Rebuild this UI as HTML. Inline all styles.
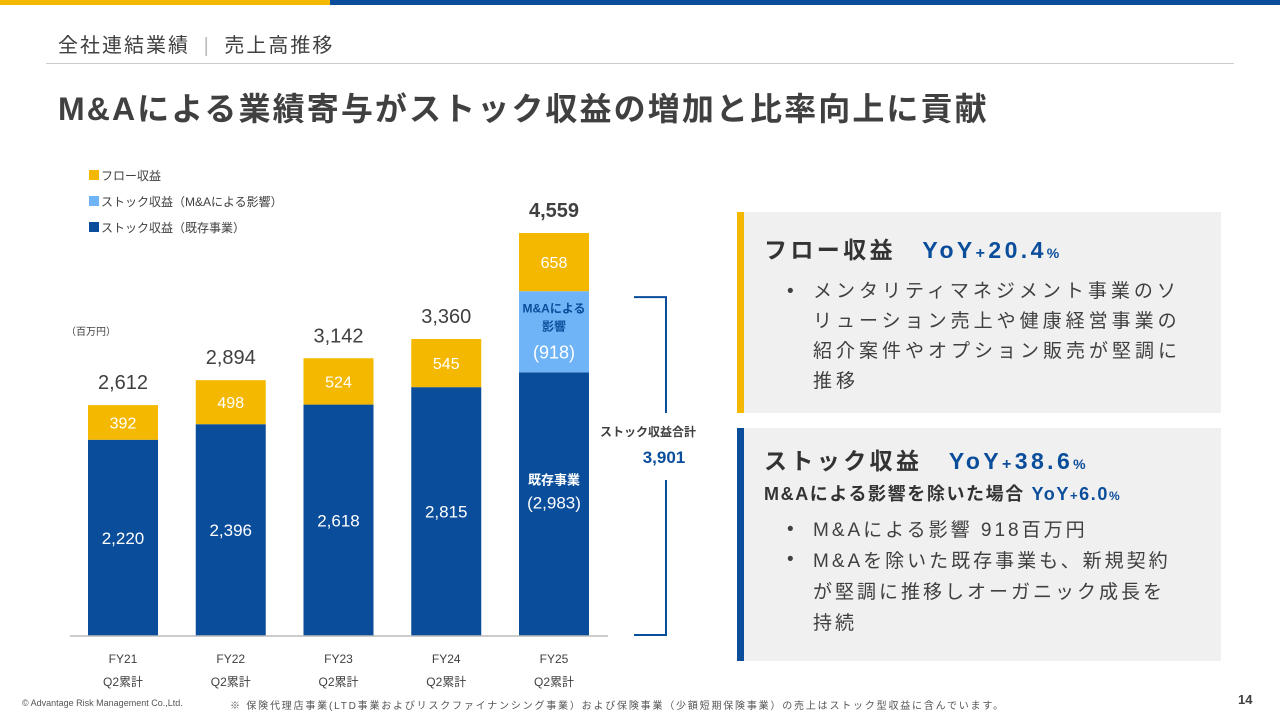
<!DOCTYPE html>
<html><head><meta charset="utf-8"><style>
body{margin:0;width:1280px;height:720px;background:#fff;position:relative;overflow:hidden;font-family:"Liberation Sans","Noto Sans CJK JP",sans-serif;color:#404040}
.abs{position:absolute}
.bl{position:absolute;font-size:19px;line-height:30px;letter-spacing:4px;color:#404040;white-space:nowrap}
</style></head><body>
<div class="abs" style="left:0;top:0;width:330px;height:5px;background:#f5b800"></div>
<div class="abs" style="left:330px;top:0;width:950px;height:5px;background:#0a4d9b"></div>
<div class="abs" style="left:58px;top:29px;font-size:20px;letter-spacing:2px;color:#404040">全社連結業績 <span style="color:#bbb;margin:0 6px">|</span> 売上高推移</div>
<div class="abs" style="left:46px;top:63px;width:1188px;height:1px;background:#ccc"></div>
<div class="abs" style="left:58px;top:84px;font-size:32px;font-weight:bold;letter-spacing:2.1px;color:#404040">M&amp;Aによる業績寄与がストック収益の増加と比率向上に貢献</div>

<svg class="abs" style="left:0;top:0" width="1280" height="720" id="chart"></svg>

<div class="abs" style="left:737px;top:212px;width:484px;height:201px;background:#f0f0f0">
 <div class="abs" style="left:0;top:0;width:7px;height:201px;background:#f5b800"></div>
 <div class="abs" style="left:27px;top:19px;font-size:23px;font-weight:bold;letter-spacing:3.4px;color:#333;white-space:nowrap">フロー収益　<span style="color:#0a4d9b">YoY<span style="font-size:16px">+</span>20.4<span style="font-size:14px">%</span></span></div>
 <div class="bl" style="left:50px;top:65px">•</div>
 <div class="bl" style="left:76px;top:65px">メンタリティマネジメント事業のソ<br>リューション売上や健康経営事業の<br>紹介案件やオプション販売が堅調に<br>推移</div>
</div>
<div class="abs" style="left:737px;top:428px;width:484px;height:233px;background:#f0f0f0">
 <div class="abs" style="left:0;top:0;width:7px;height:233px;background:#0a4d9b"></div>
 <div class="abs" style="left:27px;top:14px;font-size:23px;font-weight:bold;letter-spacing:3.4px;color:#333;white-space:nowrap">ストック収益　<span style="color:#0a4d9b">YoY<span style="font-size:16px">+</span>38.6<span style="font-size:14px">%</span></span></div>
 <div class="abs" style="left:27px;top:52px;font-size:18px;font-weight:bold;letter-spacing:1.6px;color:#333;white-space:nowrap">M&amp;Aによる影響を除いた場合 <span style="color:#0a4d9b">YoY<span style="font-size:13px">+</span>6.0<span style="font-size:12px">%</span></span></div>
 <div class="bl" style="left:50px;top:87px">•<br>•</div>
 <div class="bl" style="left:76px;top:87px;line-height:31px;letter-spacing:3px">M&amp;Aによる影響 918百万円<br>M&amp;Aを除いた既存事業も、新規契約<br>が堅調に推移しオーガニック成長を<br>持続</div>
</div>
<div class="abs" style="left:22px;top:698px;font-size:9px;color:#555">© Advantage Risk Management Co.,Ltd.</div>
<div class="abs" style="left:230px;top:697px;font-size:10px;letter-spacing:1.8px;color:#555;white-space:nowrap">※ 保険代理店事業(LTD事業およびリスクファイナンシング事業）および保険事業（少額短期保険事業）の売上はストック型収益に含んでいます。</div>
<div class="abs" style="left:1238px;top:692px;font-size:13px;font-weight:bold;color:#404040">14</div>

<script>
const categories=["FY21","FY22","FY23","FY24","FY25"];
const existing=[2220,2396,2618,2815,2983];
const mna=[0,0,0,0,918];
const flow=[392,498,524,545,658];
const totals=["2,612","2,894","3,142","3,360","4,559"];
const ns="http://www.w3.org/2000/svg";
const svg=document.getElementById('chart');
const base=636,scale=403/4559,x0=88,step=107.75,bw=70;
const y=v=>base-v*scale;
const xb=i=>x0+i*step;
function mk(t,a,txt){const e=document.createElementNS(ns,t);for(const k in a)e.setAttribute(k,a[k]);if(txt!==undefined)e.textContent=txt;svg.appendChild(e);return e;}
const fnt='"Liberation Sans","Noto Sans CJK JP",sans-serif';
const leg=[["#f5b800","フロー収益"],["#6eb4f7","ストック収益（M&Aによる影響）"],["#0a4d9b","ストック収益（既存事業）"]];
leg.forEach((l,i)=>{
 const r=mk('rect',{x:89,y:170+i*26,width:10,height:10,fill:l[0]});
 
 
 const t=mk('text',{x:101,y:180+i*26,'font-size':12,fill:'#404040','font-family':fnt},l[1]);
 
 
});
const u=mk('text',{x:66,y:335,'font-size':10,fill:'#404040','font-family':fnt},'（百万円）');


categories.forEach((c,i)=>{
 const x=xb(i);
 const s1=existing[i],s2=s1+mna[i],s3=s2+flow[i];
 const b1=mk('rect',{x:x,y:y(s1),width:bw,height:s1*scale,fill:'#0a4d9b'});
 
 
 if(mna[i]>0){const b2=mk('rect',{x:x,y:y(s2),width:bw,height:mna[i]*scale,fill:'#6eb4f7'});
  
  }
 const b3=mk('rect',{x:x,y:y(s3),width:bw,height:flow[i]*scale,fill:'#f5b800'});
 
 
 const cx=x+bw/2;
 const last=i===categories.length-1;
 mk('text',{x:cx,y:(y(s2)+y(s3))/2+6,'text-anchor':'middle','font-size':16,fill:'#fff','font-family':fnt},flow[i].toLocaleString('en-US'));
 if(!last){mk('text',{x:cx,y:(y(0)+y(s1))/2+6,'text-anchor':'middle','font-size':17,fill:'#fff','font-family':fnt},existing[i].toLocaleString('en-US'));}
 else{
  mk('text',{x:cx,y:y(s1)+112,'text-anchor':'middle','font-size':13,'font-weight':'bold',fill:'#fff','font-family':fnt},'既存事業');
  mk('text',{x:cx,y:y(s1)+136,'text-anchor':'middle','font-size':17,fill:'#fff','font-family':fnt},'('+existing[i].toLocaleString('en-US')+')');
  mk('text',{x:cx,y:y(s1)-60,'text-anchor':'middle','font-size':12,'font-weight':'bold',fill:'#0a4d9b','font-family':fnt},'M&Aによる');
  mk('text',{x:cx,y:y(s1)-42,'text-anchor':'middle','font-size':12,'font-weight':'bold',fill:'#0a4d9b','font-family':fnt},'影響');
  mk('text',{x:cx,y:y(s1)-14,'text-anchor':'middle','font-size':18,fill:'#fff','font-family':fnt},'('+mna[i]+')');
 }
 const tt=mk('text',{x:cx,y:y(s3)-16,'text-anchor':'middle','font-size':20,'font-weight':last?'bold':'normal',fill:'#404040','font-family':fnt},totals[i]);
 
 
 mk('text',{x:cx,y:663,'text-anchor':'middle','font-size':12,fill:'#404040','font-family':fnt},c);
 mk('text',{x:cx,y:686,'text-anchor':'middle','font-size':12,fill:'#404040','font-family':fnt},'Q2累計');
});
const ax=mk('line',{x1:70,y1:base,x2:608,y2:base,stroke:'#bbb','stroke-width':1.5});


const stockTop=y(existing[4]+mna[4])+6;
const br=mk('path',{d:`M634 ${stockTop} H666 V413 M666 480 V${base-1} H634`,stroke:'#0a4d9b','stroke-width':2,fill:'none'});


mk('text',{x:648,y:436,'text-anchor':'middle','font-size':12,'font-weight':'bold',fill:'#404040','font-family':fnt},'ストック収益合計');
mk('text',{x:664,y:463,'text-anchor':'middle','font-size':17,'font-weight':'bold',fill:'#0a4d9b','font-family':fnt},(existing[4]+mna[4]).toLocaleString('en-US'));
</script>
</body></html>
